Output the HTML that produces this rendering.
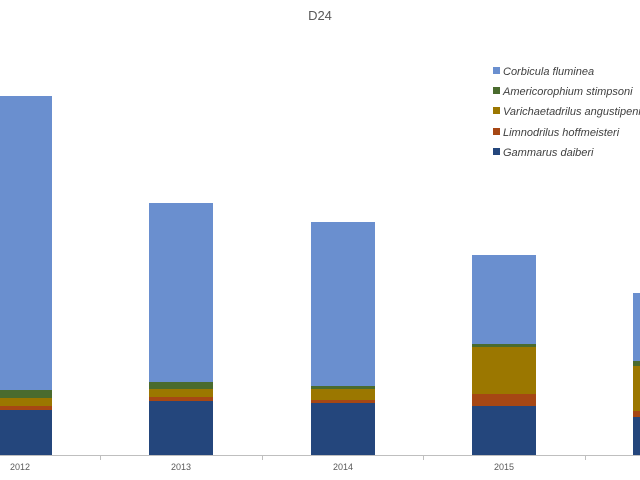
<!DOCTYPE html>
<html><head><meta charset="utf-8"><style>
html,body{margin:0;padding:0;background:#fff;}
svg{display:block;font-family:"Liberation Sans",sans-serif;}
</style></head><body>
<svg width="640" height="480" viewBox="0 0 640 480">
<text x="320" y="20" text-anchor="middle" font-size="13" fill="#595959">D24</text>
<g>
<!-- 2012 -->
<rect x="-12" y="96" width="64" height="294" fill="#6a8fcf"/>
<rect x="-12" y="390" width="64" height="8" fill="#4a6b2e"/>
<rect x="-12" y="398" width="64" height="8" fill="#9b7700"/>
<rect x="-12" y="406" width="64" height="4" fill="#a64714"/>
<rect x="-12" y="410" width="64" height="45" fill="#24467c"/>
<!-- 2013 -->
<rect x="149" y="203" width="64" height="179" fill="#6a8fcf"/>
<rect x="149" y="382" width="64" height="7" fill="#4a6b2e"/>
<rect x="149" y="389" width="64" height="8" fill="#9b7700"/>
<rect x="149" y="397" width="64" height="4" fill="#a64714"/>
<rect x="149" y="401" width="64" height="54" fill="#24467c"/>
<!-- 2014 -->
<rect x="311" y="222" width="64" height="164" fill="#6a8fcf"/>
<rect x="311" y="386" width="64" height="3" fill="#4a6b2e"/>
<rect x="311" y="389" width="64" height="11" fill="#9b7700"/>
<rect x="311" y="400" width="64" height="3" fill="#a64714"/>
<rect x="311" y="403" width="64" height="52" fill="#24467c"/>
<!-- 2015 -->
<rect x="472" y="255" width="64" height="89" fill="#6a8fcf"/>
<rect x="472" y="344" width="64" height="3" fill="#4a6b2e"/>
<rect x="472" y="347" width="64" height="47" fill="#9b7700"/>
<rect x="472" y="394" width="64" height="12" fill="#a64714"/>
<rect x="472" y="406" width="64" height="49" fill="#24467c"/>
<!-- 2016 -->
<rect x="633" y="293" width="64" height="68" fill="#6a8fcf"/>
<rect x="633" y="361" width="64" height="5" fill="#4a6b2e"/>
<rect x="633" y="366" width="64" height="45" fill="#9b7700"/>
<rect x="633" y="411" width="64" height="6" fill="#a64714"/>
<rect x="633" y="417" width="64" height="38" fill="#24467c"/>
</g>
<line x1="0" y1="455.5" x2="640" y2="455.5" stroke="#bfbfbf" stroke-width="1"/>
<g stroke="#bfbfbf">
<line x1="100.5" y1="455" x2="100.5" y2="460"/>
<line x1="262.5" y1="455" x2="262.5" y2="460"/>
<line x1="423.5" y1="455" x2="423.5" y2="460"/>
<line x1="585.5" y1="455" x2="585.5" y2="460"/>
</g>
<g font-size="9" fill="#595959" text-anchor="middle">
<text x="20" y="470">2012</text>
<text x="181" y="470">2013</text>
<text x="343" y="470">2014</text>
<text x="504" y="470">2015</text>
</g>
<g font-size="11" fill="#404040" font-style="italic">
<rect x="493" y="67" width="7" height="7" fill="#6a8fcf"/><text x="503" y="75">Corbicula fluminea</text>
<rect x="493" y="87" width="7" height="7" fill="#4a6b2e"/><text x="503" y="95">Americorophium stimpsoni</text>
<rect x="493" y="107" width="7" height="7" fill="#9b7700"/><text x="503" y="115">Varichaetadrilus angustipenis</text>
<rect x="493" y="128" width="7" height="7" fill="#a64714"/><text x="503" y="136">Limnodrilus hoffmeisteri</text>
<rect x="493" y="148" width="7" height="7" fill="#24467c"/><text x="503" y="156">Gammarus daiberi</text>
</g>
</svg>
</body></html>
